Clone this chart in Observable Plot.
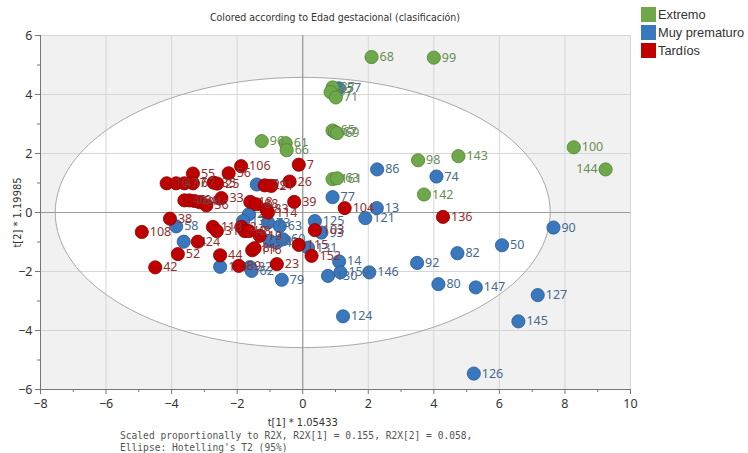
<!DOCTYPE html>
<html>
<head>
<meta charset="utf-8">
<script src="https://cdn.jsdelivr.net/npm/d3@7"></script>
<script src="https://cdn.jsdelivr.net/npm/@observablehq/plot@0.6"></script>
<style>
  html, body { margin: 0; padding: 0; background: #fff; }
  #chart { position: relative; width: 748px; height: 453px; overflow: hidden; }
  #chart svg { position: absolute; left: 0; top: 0; }
  .title { position: absolute; top: 11px; left: 135px; width: 400px; text-align: center;
    font-family: "Liberation Sans Narrow", "DejaVu Sans Condensed", "Roboto", sans-serif; font-size: 10.5px; color: #333; }
  .legend { position: absolute; left: 641px; top: 7px; font-family: "Liberation Sans", Arial, sans-serif; font-size: 12.8px; color: #333; }
  .legend div { height: 18px; line-height: 16px; white-space: nowrap; }
  .legend span.sw { display: inline-block; width: 15px; height: 15px; vertical-align: top; margin-right: 2px; }
  .foot { position: absolute; left: 120px; top: 430px; font-family: "DejaVu Sans Mono", "Liberation Mono", monospace;
    font-size: 9.6px; line-height: 11.5px; color: #555; white-space: pre; }
</style>
</head>
<body>
<div id="chart"></div>
<script>
// Score plot t[1] vs t[2], coloured by gestational age class
const groups = ["Extremo", "Muy prematuro", "Tardíos"];
const groupColors = ["#6fa84a", "#3a78bd", "#bf0000"];
const groupStrokes = ["#4e8430", "#275a92", "#8a0000"];
const labelColors = ["#6a8c56", "#46698e", "#8e3030"];

// Extremo
const extremoIds = ["68", "99", "87", "97", "71", "65", "67", "69", "96", "61", "66", "161", "63", "98", "143", "142", "100", "144"];
const extremoT1 = [2.10, 4.00, 0.91, 0.85, 1.01, 0.91, 0.98, 1.05, -1.25, -0.52, -0.49, 0.91, 1.05, 3.52, 4.75, 3.70, 8.27, 9.24];
const extremoT2 = [5.27, 5.25, 4.24, 4.08, 3.90, 2.78, 2.73, 2.69, 2.42, 2.35, 2.11, 1.13, 1.16, 1.77, 1.91, 0.61, 2.21, 1.46];

// Muy prematuro
const muyIds = ["57", "86", "74", "77", "13", "121", "125", "93", "131", "14", "159", "130", "146", "124", "92", "82", "80", "147", "50", "90", "127", "145", "126", "79", "32", "62", "129", "54", "58", "95", "22", "132", "73", "63", "40", "47", "60"];
const muyT1 = [1.10, 2.27, 4.08, 0.91, 2.26, 1.91, 0.37, 0.57, 0.16, 1.11, 1.15, 0.77, 2.03, 1.23, 3.49, 4.72, 4.14, 5.28, 6.08, 7.65, 7.17, 6.58, 5.22, -0.64, -1.61, -1.56, -2.52, -3.63, -3.86, -1.40, -1.64, -1.82, -1.06, -0.70, -1.01, -0.80, -0.60];
const muyT2 = [4.21, 1.46, 1.22, 0.52, 0.15, -0.19, -0.29, -0.68, -1.19, -1.66, -2.03, -2.15, -2.03, -3.52, -1.71, -1.38, -2.43, -2.54, -1.11, -0.51, -2.80, -3.69, -5.46, -2.28, -1.85, -1.98, -1.84, -0.99, -0.47, 0.95, -0.06, -0.29, -0.34, -0.46, -0.96, -1.02, -0.91];

// Tardíos
const tardiosIds = ["106", "7", "55", "56", "16", "47", "37", "67", "35", "25", "29", "21", "26", "40", "70", "64", "94", "36", "33", "18", "88", "83", "114", "39", "38", "108", "113", "31", "2", "12", "48", "19", "116", "81", "89", "23", "44", "52", "42", "24", "103", "115", "152", "104", "136"];
const tardiosT1 = [-1.88, -0.12, -3.35, -2.26, -4.15, -3.86, -3.61, -3.35, -2.72, -2.61, -1.16, -0.96, -0.40, -3.61, -3.46, -3.30, -3.15, -2.94, -2.48, -1.60, -1.42, -1.11, -1.06, -0.26, -4.05, -4.91, -2.74, -2.62, -1.87, -1.77, -1.64, -1.31, -1.54, -1.47, -1.95, -0.79, -2.52, -3.81, -4.50, -3.20, 0.37, -0.12, 0.27, 1.28, 4.28];
const tardiosT2 = [1.57, 1.62, 1.32, 1.33, 0.99, 0.99, 0.99, 0.99, 1.01, 0.98, 0.92, 0.90, 1.05, 0.41, 0.41, 0.39, 0.35, 0.24, 0.49, 0.36, 0.28, 0.11, 0.00, 0.36, -0.21, -0.66, -0.49, -0.63, -0.49, -0.63, -0.63, -0.79, -1.28, -1.21, -1.81, -1.75, -1.45, -1.41, -1.86, -0.99, -0.60, -1.10, -1.47, 0.15, -0.15];

// observations whose label sits to the left of the marker
const leftLabelled = ["144"];

// axis ticks
const xMajor = [-8, -6, -4, -2, 0, 2, 4, 6, 8, 10];
const xMinor = [-7, -5, -3, -1, 1, 3, 5, 7, 9];
const yMajor = [-6, -4, -2, 0, 2, 4, 6];
const yMinor = [-5, -3, -1, 1, 3, 5];

// Hotelling's T2 (95%) ellipse semi-axes
const ellipseA = 7.55;
const ellipseB = 4.58;

const titleText = "Colored according to Edad gestacional (clasificación)";
const xLabel = "t[1] * 1.05433";
const yLabel = "t[2] * 1.19985";
const footLines = ["Scaled proportionally to R2X, R2X[1] = 0.155, R2X[2] = 0.058,", "Ellipse: Hotelling's T2 (95%)"];

function rowsOf(ids, t1, t2, g) {
  return ids.map((id, i) => ({id, t1: t1[i], t2: t2[i], g}));
}
const sets = [
  rowsOf(extremoIds, extremoT1, extremoT2, 0),
  rowsOf(muyIds, muyT1, muyT2, 1),
  rowsOf(tardiosIds, tardiosT1, tardiosT2, 2)
];

const ellipse = d3.range(0, 361, 2).map(a => {
  const r = a * Math.PI / 180;
  return {x: ellipseA * Math.cos(r), y: ellipseB * Math.sin(r)};
});

// draw blue first, then red, then green on top
const drawOrder = [1, 2, 0];
const pointMarks = [];
for (const g of drawOrder) {
  const rows = sets[g];
  pointMarks.push(
    Plot.dot(rows, {x: "t1", y: "t2", r: 6.6, fill: groupColors[g], stroke: groupStrokes[g], strokeWidth: 0.8}),
    Plot.text(rows.filter(d => !leftLabelled.includes(d.id)), {x: "t1", y: "t2", text: "id", dx: 8, textAnchor: "start", fill: labelColors[g], fontSize: 12.5}),
    Plot.text(rows.filter(d => leftLabelled.includes(d.id)), {x: "t1", y: "t2", text: "id", dx: -8, textAnchor: "end", fill: labelColors[g], fontSize: 12.5})
  );
}

const plot = Plot.plot({
  width: 748,
  height: 453,
  marginLeft: 40,
  marginRight: 118,
  marginTop: 35,
  marginBottom: 64,
  style: {fontFamily: "Noto Sans, Open Sans, sans-serif", fontSize: "12px", color: "#333", background: "transparent"},
  x: {domain: [-8, 10]},
  y: {domain: [-6, 6]},
  marks: [
    Plot.frame({fill: "#f1f1f1", stroke: null}),
    Plot.line(ellipse, {x: "x", y: "y", fill: "white", stroke: null}),
    Plot.gridX(xMajor, {stroke: "#d6d6d6", strokeOpacity: 1}),
    Plot.gridY(yMajor, {stroke: "#d6d6d6", strokeOpacity: 1}),
    Plot.line(ellipse, {x: "x", y: "y", stroke: "#a8a8a8", strokeWidth: 1}),
    Plot.ruleX([0], {stroke: "#9a9a9a", strokeWidth: 1.2}),
    Plot.ruleY([0], {stroke: "#9a9a9a", strokeWidth: 1.2}),
    Plot.ruleX([-8], {stroke: "#777", strokeWidth: 1}),
    Plot.ruleY([-6], {stroke: "#777", strokeWidth: 1}),
    Plot.axisX(xMajor, {tickSize: 5, tickPadding: 5, label: null, fontSize: 12.5, stroke: "#777"}),
    Plot.axisX(xMinor, {tickSize: 3, tickFormat: () => "", label: null, stroke: "#777"}),
    Plot.axisY(yMajor, {tickSize: 5, tickPadding: 3, label: null, fontSize: 12.5, stroke: "#777"}),
    Plot.axisY(yMinor, {tickSize: 3, tickFormat: () => "", label: null, stroke: "#777"}),
    Plot.text([xLabel], {x: 0, y: -6, dy: 33, text: d => d, fontSize: 11, fill: "#333", fontFamily: "Liberation Sans Narrow, DejaVu Sans Condensed, Roboto, sans-serif"}),
    Plot.text([yLabel], {x: -8, y: 0, dx: -23, rotate: -90, text: d => d, fontSize: 11, fill: "#333", fontFamily: "Liberation Sans Narrow, DejaVu Sans Condensed, Roboto, sans-serif"}),
    ...pointMarks
  ]
});

const root = document.getElementById("chart");
root.appendChild(plot);

const title = document.createElement("div");
title.className = "title";
title.textContent = titleText;
root.appendChild(title);

const legend = document.createElement("div");
legend.className = "legend";
groups.forEach((name, i) => {
  const row = document.createElement("div");
  const sw = document.createElement("span");
  sw.className = "sw";
  sw.style.background = groupColors[i];
  row.appendChild(sw);
  row.appendChild(document.createTextNode(name));
  legend.appendChild(row);
});
root.appendChild(legend);

const foot = document.createElement("div");
foot.className = "foot";
foot.textContent = footLines.join("\n");
root.appendChild(foot);
</script>
</body>
</html>
